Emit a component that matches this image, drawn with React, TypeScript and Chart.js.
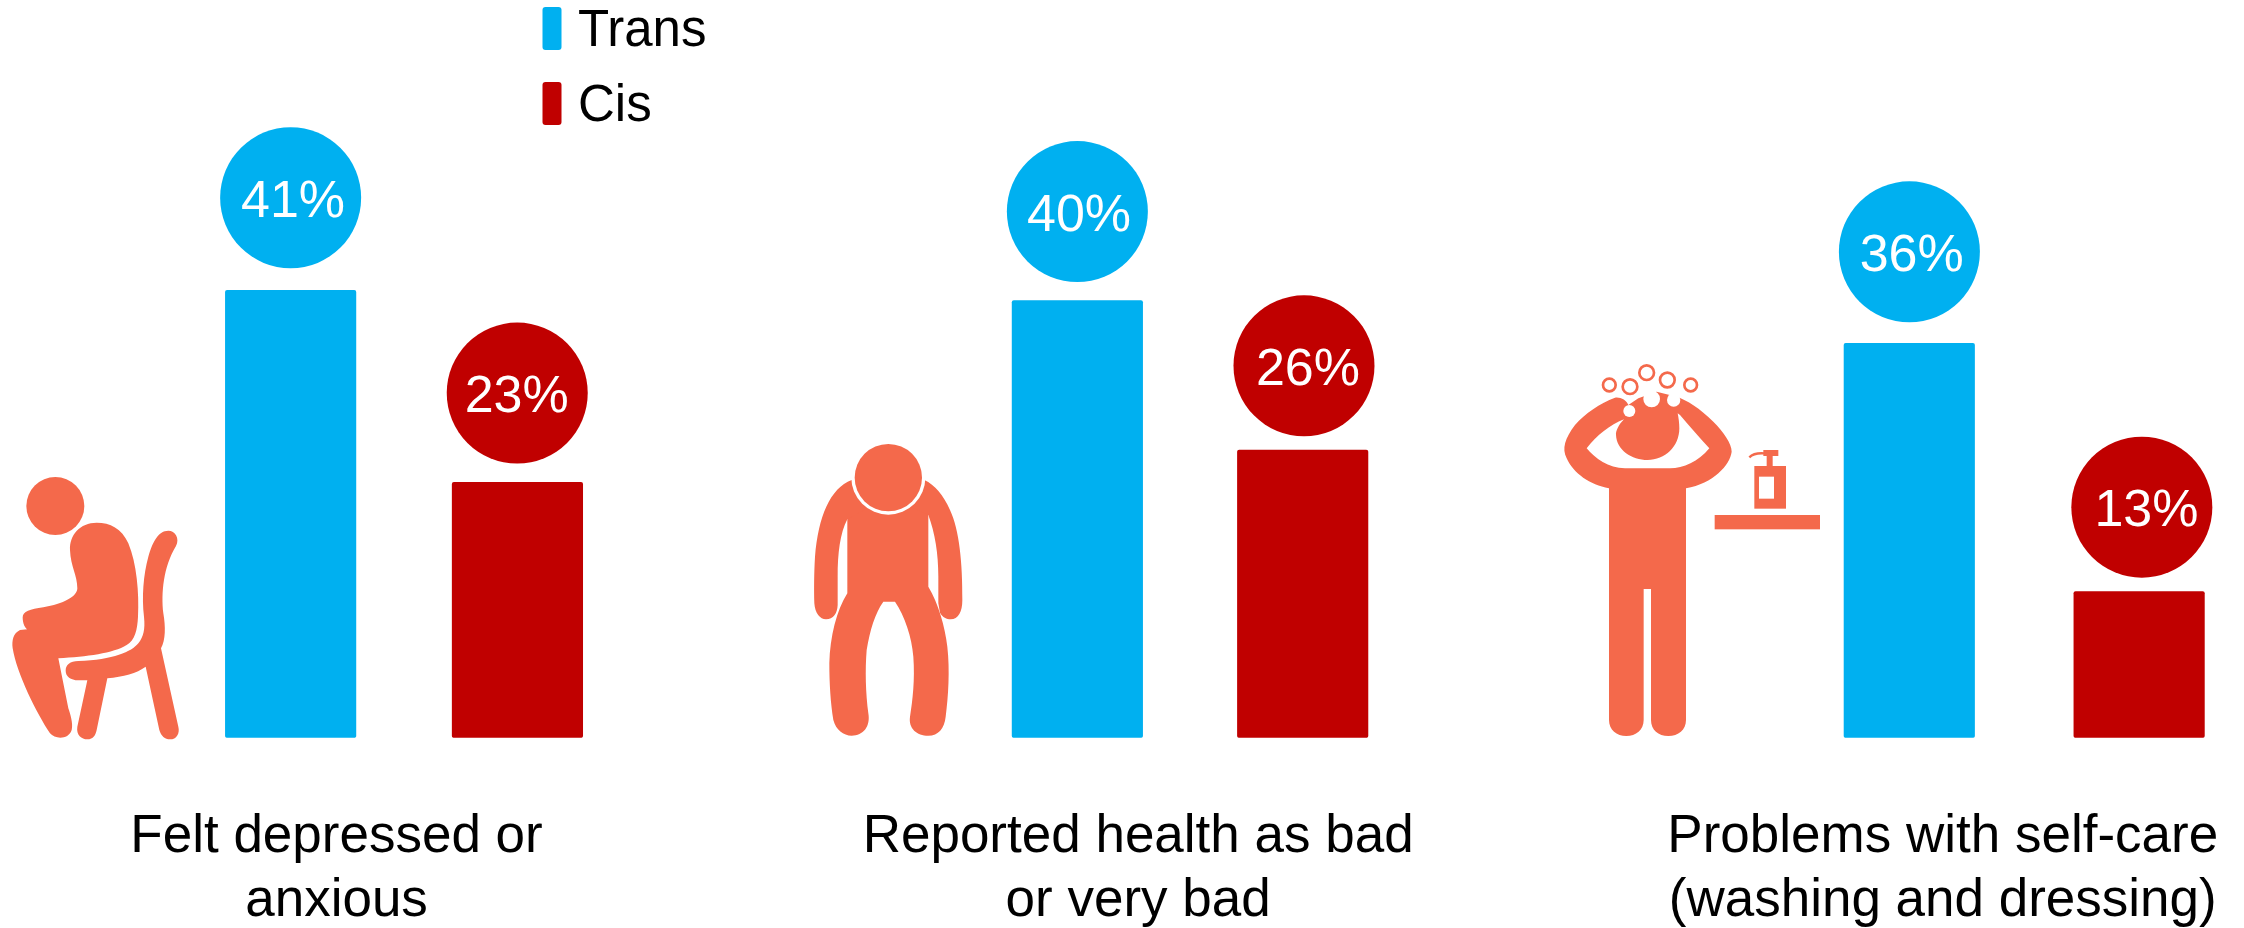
import React, { useEffect, useRef } from "react";
import { Chart, registerables } from "chart.js";

Chart.register(...registerables);

// ---- data ----
const categories: string[][] = [
  ["Felt depressed or", "anxious"],
  ["Reported health as bad", "or very bad"],
  ["Problems with self-care", "(washing and dressing)"],
];
const seriesNames = ["Trans", "Cis"];
const transValues = [40.9, 39.95, 36.05];
const cisValues = [23.35, 26.3, 13.35];

// ---- layout on the slot axis (one slot = spacing between a group's two bars) ----
const transSlots = [0, 3.481, 7.162];
const cisSlots = [1.0035, 4.478, 8.179];
const categorySlots = [0.203, 3.75, 7.31];
const X_MIN = -1.286;
const X_MAX = 8.643;
const Y_MAX = 67.43;

// ---- style ----
const BLUE = "#00B0F0";
const RED = "#C00000";
const ICON = "#F4694B";
const FONT = '"Liberation Sans", Arial, sans-serif';

// bubble gap above the bar and its x shift, in order trans1, cis1, trans2, ...
const bubbleGap = [[22, 18.7], [18.6, 13.7], [21, 14]];
const bubbleDx = [[0, -0.2], [0, 1.3], [0.1, 2.7]];
const bubbleTextDx = [[2.4, -0.5], [1.7, 4], [2.3, 4.6]];
const BUBBLE_R = 70.5;

function drawIcons(ctx: CanvasRenderingContext2D) {
  const at = (ox: number, oy: number, fn: () => void) => {
    ctx.save();
    ctx.translate(ox, oy);
    ctx.scale(1 / 3, 1 / 3);
    ctx.fillStyle = ICON;
    fn();
    ctx.restore();
  };
  const disc = (x: number, y: number, r: number, color = ICON) => {
    ctx.beginPath();
    ctx.arc(x, y, r, 0, Math.PI * 2);
    ctx.fillStyle = color;
    ctx.fill();
  };
  // seated figure
  at(0, 460, () => {
    disc(166, 138, 87);
    ctx.fillStyle = ICON;
    ctx.fill(new Path2D(
      "M290 188C240 188 208 225 210 270C212 320 232 345 232 385C232 410 190 432 130 442C90 447 68 455 68 472C68 490 75 505 82 508L60 510C40 520 35 540 38 565C50 640 110 760 150 820C165 838 205 840 215 810C220 790 210 760 205 745L175 595C260 590 340 580 380 555C405 540 412 510 414 470C418 400 410 310 385 250C365 205 330 188 290 188Z"
    ));
    ctx.fill(new Path2D(
      "M505 212C475 212 458 245 445 290C430 345 425 410 432 470C436 510 430 530 415 550C395 575 340 600 235 603C210 603 197 615 197 632C197 650 212 660 235 661L262 661L232 800C228 825 245 838 262 838C280 838 287 825 290 810L322 655C370 650 410 640 437 620L478 810C483 828 495 838 510 838C530 838 540 820 535 800L483 565C497 540 497 500 490 460C483 400 490 320 528 258C540 235 525 212 505 212Z"
    ));
  });
  // slumped figure
  at(800, 430, () => {
    ctx.fill(new Path2D(
      "M142 160L385 160L385 470C415 520 435 590 442 650C450 720 445 800 437 860C433 895 415 917 385 917C350 917 325 895 330 860C338 810 345 750 340 680C335 620 315 560 285 515L250 515C225 550 210 600 200 660C195 720 197 790 205 850C212 890 190 917 155 917C130 917 108 900 100 870C92 820 88 760 88 700C90 620 110 540 142 490Z"
    ));
    ctx.fill(new Path2D(
      "M155 150C90 175 55 260 45 380C42 430 42 480 43 520C45 550 60 568 78 568C100 568 112 550 113 525L113 440C113 370 120 310 142 268L265 200Z"
    ));
    ctx.fill(new Path2D(
      "M373 150C405 165 430 195 450 240C478 300 488 400 487 510C487 545 475 568 452 568C440 568 428 562 420 548L415 520L415 440C415 370 405 310 385 255L265 200Z"
    ));
    disc(265, 143, 111, "#FFFFFF");
    disc(265, 143, 101);
  });
  // washing figure
  at(1550, 350, () => {
    ctx.fill(new Path2D(
      "M177 415C120 405 70 370 50 325C35 295 45 265 75 225C105 190 150 160 195 143C210 140 230 150 235 165L265 145L320 125L380 140C410 150 450 175 490 215C520 245 545 280 545 305C540 345 490 400 408 415L408 1110C408 1140 385 1158 355 1158C325 1158 303 1140 303 1110L303 717L281 717L281 1110C281 1140 258 1158 229 1158C200 1158 177 1140 177 1110Z"
    ));
    ctx.fillStyle = "#FFFFFF";
    ctx.fill(new Path2D(
      "M110 295C140 255 180 225 222 208C205 225 197 245 198 255C200 300 245 330 293 330C345 330 388 290 388 235C388 220 386 205 383 190L390 195C420 230 450 265 478 295C445 335 400 355 360 355L225 355C175 355 135 325 110 295Z"
    ));
    disc(238, 183, 18, "#FFFFFF");
    disc(305, 147, 25, "#FFFFFF");
    disc(371, 150, 20, "#FFFFFF");
    ctx.strokeStyle = ICON;
    ctx.lineWidth = 8;
    for (const [x, y, r] of [[178, 105, 19], [240, 110, 22], [290, 68, 22], [352, 90, 22], [422, 105, 19]]) {
      ctx.beginPath();
      ctx.arc(x, y, r, 0, Math.PI * 2);
      ctx.stroke();
    }
    ctx.fillStyle = ICON;
    ctx.fillRect(494, 495, 316, 43);
    ctx.fillRect(613, 348, 95, 128);
    ctx.fillRect(650, 318, 18, 30);
    ctx.fillRect(640, 300, 45, 18);
    ctx.lineWidth = 7;
    ctx.beginPath();
    ctx.moveTo(642, 310);
    ctx.quadraticCurveTo(612, 308, 598, 322);
    ctx.stroke();
    ctx.fillStyle = "#FFFFFF";
    ctx.fillRect(627, 380, 45, 66);
  });
}

const iconPlugin = {
  id: "icons",
  beforeDatasetsDraw(chart: any) {
    drawIcons(chart.ctx);
  },
};

const bubblePlugin = {
  id: "bubbles",
  afterDatasetsDraw(chart: any) {
    const ctx = chart.ctx as CanvasRenderingContext2D;
    chart.data.datasets.forEach((ds: any, d: number) => {
      chart.getDatasetMeta(d).data.forEach((bar: any, i: number) => {
        const cx = bar.x + bubbleDx[i][d];
        const cy = bar.y - bubbleGap[i][d] - BUBBLE_R;
        ctx.save();
        ctx.beginPath();
        ctx.arc(cx, cy, BUBBLE_R, 0, Math.PI * 2);
        ctx.fillStyle = ds.backgroundColor;
        ctx.fill();
        ctx.fillStyle = "#FFFFFF";
        ctx.font = `52px ${FONT}`;
        ctx.textAlign = "center";
        ctx.textBaseline = "alphabetic";
        ctx.fillText(`${Math.round(ds.data[i].y)}%`, cx + bubbleTextDx[i][d], cy + 19);
        ctx.restore();
      });
    });
  },
};

const legendPlugin = {
  id: "sideLegend",
  afterDraw(chart: any) {
    const ctx = chart.ctx as CanvasRenderingContext2D;
    chart.data.datasets.forEach((ds: any, d: number) => {
      const top = 7 + d * 75;
      ctx.save();
      ctx.beginPath();
      ctx.roundRect(542.5, top, 19, 43, 3);
      ctx.fillStyle = ds.backgroundColor;
      ctx.fill();
      ctx.fillStyle = "#000000";
      ctx.font = `51px ${FONT}`;
      ctx.textAlign = "left";
      ctx.textBaseline = "alphabetic";
      ctx.fillText(ds.label, 578, top + 39);
      ctx.restore();
    });
  },
};

export default function App() {
  const ref = useRef<HTMLCanvasElement>(null);
  useEffect(() => {
    const chart = new Chart(ref.current as HTMLCanvasElement, {
      type: "bar",
      data: {
        datasets: [
          {
            label: seriesNames[0],
            data: transValues.map((y, i) => ({ x: transSlots[i], y })),
            backgroundColor: BLUE,
            borderRadius: 2,
            borderSkipped: false,
            barThickness: 130.5,
            grouped: false,
          },
          {
            label: seriesNames[1],
            data: cisValues.map((y, i) => ({ x: cisSlots[i], y })),
            backgroundColor: RED,
            borderRadius: 2,
            borderSkipped: false,
            barThickness: 130.5,
            grouped: false,
          },
        ],
      } as any,
      options: {
        animation: false,
        responsive: false,
        layout: { padding: 0 },
        plugins: { legend: { display: false }, tooltip: { enabled: false } },
        scales: {
          x: {
            type: "linear",
            offset: false,
            min: X_MIN,
            max: X_MAX,
            grid: { display: false },
            border: { display: false },
            afterBuildTicks: (s: any) => {
              s.ticks = categorySlots.map((value) => ({ value }));
            },
            afterFit: (s: any) => {
              s.height = 190.3;
              s.paddingLeft = 0;
              s.paddingRight = 0;
            },
            ticks: {
              autoSkip: false,
              maxRotation: 0,
              minRotation: 0,
              padding: 60,
              color: "#000000",
              font: { family: FONT, size: 53, lineHeight: 1.208 },
              callback: (v: any) => categories[categorySlots.indexOf(v)],
            },
          },
          y: { display: false, min: 0, max: Y_MAX },
        },
      } as any,
      plugins: [iconPlugin, bubblePlugin, legendPlugin],
    });
    return () => chart.destroy();
  }, []);
  return (
    <div style={{ position: "absolute", left: 0, top: 0, width: 2244, height: 928 }}>
      <canvas ref={ref} width={2244} height={928} style={{ display: "block" }} />
    </div>
  );
}
